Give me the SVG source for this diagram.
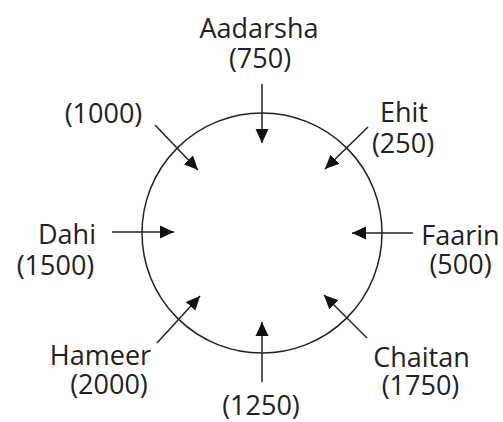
<svg xmlns="http://www.w3.org/2000/svg" width="503" height="422" viewBox="0 0 503 422">
<style>
.lbl{font-family:"Open Sans","Noto Sans","Liberation Sans",sans-serif;font-size:27px;fill:#222;text-anchor:middle}
.arr{stroke:#222;stroke-width:1.5;fill:none;marker-end:url(#ah)}
</style>
<defs>
<marker id="ah" markerUnits="userSpaceOnUse" markerWidth="15" markerHeight="14" refX="14" refY="7" orient="auto">
<path d="M0,0.5 L14,7 L0,13.5 z" fill="#111"/>
</marker>
</defs>
<rect width="503" height="422" fill="#fff"/>
<g id="circle">
<circle cx="262" cy="233" r="120" fill="none" stroke="#222" stroke-width="1.5"/>
</g>
<g id="connectors">
<line class="arr" x1="262" y1="84" x2="262" y2="143"/>
<line class="arr" x1="368" y1="127" x2="325" y2="169"/>
<line class="arr" x1="155" y1="125" x2="198" y2="170"/>
<line class="arr" x1="112" y1="232" x2="174" y2="232"/>
<line class="arr" x1="413" y1="233" x2="352" y2="233"/>
<line class="arr" x1="157" y1="343" x2="200" y2="296"/>
<line class="arr" x1="367" y1="338" x2="324" y2="295"/>
<line class="arr" x1="262" y1="382" x2="262" y2="322"/>
</g>
<g id="aadarsha"><text class="lbl" x="259" y="38">Aadarsha</text><text class="lbl" x="260" y="68">(750)</text></g>
<g id="unknown1000"><text class="lbl" x="103.5" y="123">(1000)</text></g>
<g id="ehit"><text class="lbl" x="404" y="122">Ehit</text><text class="lbl" x="403" y="153">(250)</text></g>
<g id="dahi"><text class="lbl" x="67" y="244">Dahi</text><text class="lbl" x="55.5" y="275">(1500)</text></g>
<g id="faarin"><text class="lbl" x="460.5" y="245">Faarin</text><text class="lbl" x="460.5" y="274">(500)</text></g>
<g id="hameer"><text class="lbl" x="100.5" y="365">Hameer</text><text class="lbl" x="109" y="394">(2000)</text></g>
<g id="chaitan"><text class="lbl" x="421.5" y="367">Chaitan</text><text class="lbl" x="420.5" y="395">(1750)</text></g>
<g id="unknown1250"><text class="lbl" x="261" y="415">(1250)</text></g>
</svg>
